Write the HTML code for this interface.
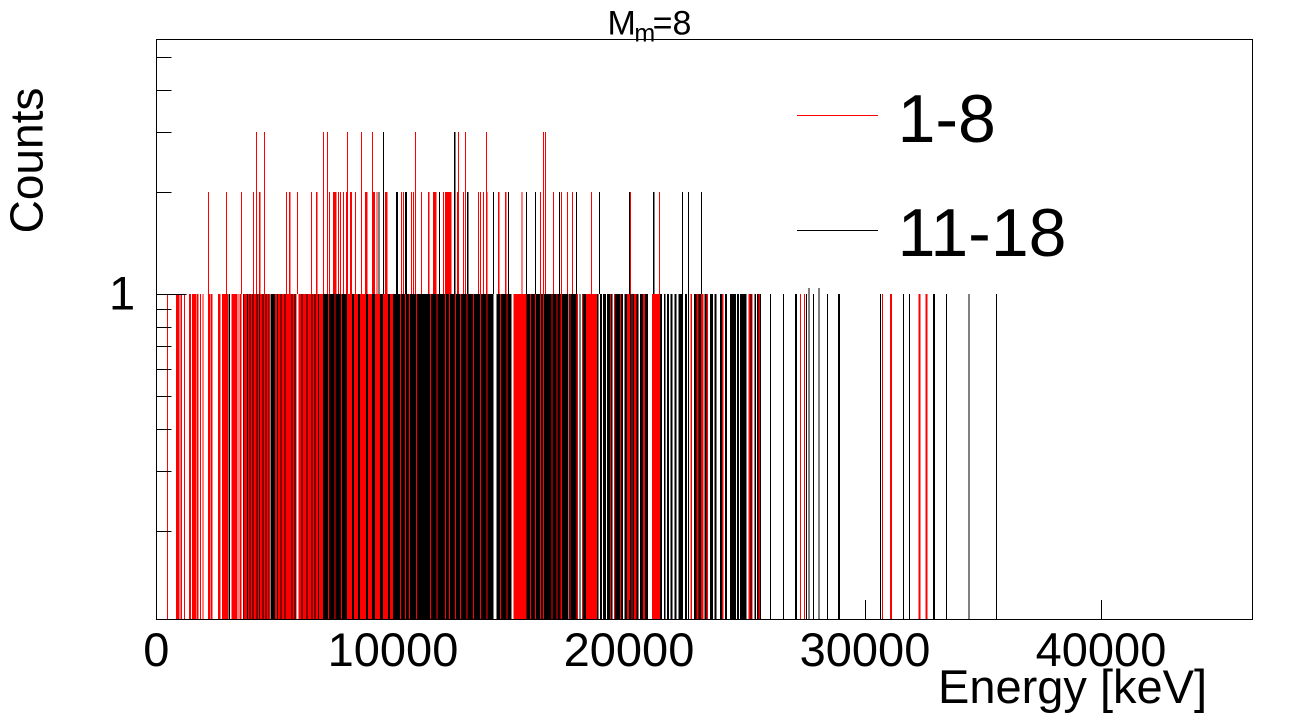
<!DOCTYPE html>
<html>
<head>
<meta charset="utf-8">
<style>
html,body{margin:0;padding:0;background:#fff;width:1301px;height:720px;overflow:hidden;}
svg{display:block;}
text{font-family:"Liberation Sans",Arial,sans-serif;fill:#000;}
</style>
</head>
<body>
<svg width="1301" height="720" viewBox="0 0 1301 720" xmlns="http://www.w3.org/2000/svg">
<rect x="0" y="0" width="1301" height="720" fill="#fff"/>
<g shape-rendering="crispEdges">
<!-- black base band (count = 1) -->
<path fill="#000" d="M243 294H557V619H243Z M228.7 294h1.3v325h-1.3z
M557 294h3.5v325h-3.5z M562 294h6v325h-6z M568.5 294h1.5v325h-1.5z
M570.5 294h6v325h-6z M579.5 294h1v325h-1z M583 294h3v325h-3z M597 294h1.5v325h-1.5z M600 294h2v325h-2z
M603 294h3v325h-3z M607 294h3v325h-3z M611 294h1.5v325h-1.5z M615 294h5v325h-5z M621 294h2v325h-2z
M624.5 294h2.5v325h-2.5z M630 294h1.5v325h-1.5z M632.5 294h1.5v325h-1.5z M636.5 294h2v325h-2z M640 294h3v325h-3z
M645 294h3v325h-3z M660 294h2v325h-2z M664 294h1.5v325h-1.5z M667 294h2v325h-2z M670.5 294h2v325h-2z
M674.5 294h2v325h-2z M678.5 294h4.5v325h-4.5z M685 294h2v325h-2z M688 294h1v325h-1z M694 294h2.5v325h-2.5z
M698.5 294h2.5v325h-2.5z M704.5 294h2v325h-2z M710 294h3v325h-3z M714.5 294h2v325h-2z M720 294h2v325h-2z
M725 294h2v325h-2z M730 294h6v325h-6z M737 294h2v325h-2z M740 294h6.5v325h-6.5z M750.5 294h1v325h-1z
M754.5 294h1.5v325h-1.5z M757 294h1.5v325h-1.5z M760 294h1v325h-1z M770 294h1v325h-1z M783 294h1v325h-1z
M795 294h2v325h-2z M806 294h1v325h-1z M813 294h1v325h-1z M827 294h1v325h-1z M838 294h2v325h-2z
M880 294h1v325h-1z M903 294h1v325h-1z M909 294h1v325h-1z M933 294h2v325h-2z M946 294h1v325h-1z
M968.5 294h1v325h-1z M996 294h1v325h-1z
M808.5 288h1v331h-1z M818.5 288h1v331h-1z"/>
<!-- white gaps -->
<path fill="#fff" d="M296.7 294h1.6v325h-1.6z M493.3 294h3.4v325h-3.4z M511.7 294h1.6v325h-1.6z M270.3 294h0.7v325h-0.7z"/>
<!-- red band (count = 1) -->
<path fill="#f00" d="M167 294h1v325h-1z M176 294h3.5v325h-3.5z M180.5 294h1.5v325h-1.5z M184 294h1v325h-1z
M189 294h2v325h-2z M192 294h4v325h-4z M196.7 294h1.6v325h-1.6z M200 294h1v325h-1z M202.7 294h1v325h-1z M208 294h2v325h-2z
M210.7 294h2v325h-2z M218 294h2.5v325h-2.5z M222 294h6v325h-6z M231.3 294h6v325h-6z M238.3 294h1v325h-1z
M240 294h1.3v325h-1.3z
M243.3 294h3.7v325h-3.7z M248 294h1.7v325h-1.7z M250.7 294h1.6v325h-1.6z M253.3 294h3v325h-3z M257.3 294h1.7v325h-1.7z
M260 294h2.3v325h-2.3z M263.3 294h2.4v325h-2.4z M266.7 294h1.6v325h-1.6z M269 294h1v325h-1z
M275 294h2v325h-2z M278 294h2.3v325h-2.3z M281.3 294h3.4v325h-3.4z M285.7 294h5.6v325h-5.6z M292.3 294h2.4v325h-2.4z M295.7 294h1v325h-1z
M298.3 294h3v325h-3z M302.3 294h4v325h-4z M307.3 294h4v325h-4z M312.3 294h2.4v325h-2.4z M315.7 294h2.3v325h-2.3z M319 294h4v325h-4z
M328 294h1v325h-1z M334.5 294h1v325h-1z M341 294h1v325h-1z
M347 294h5v325h-5z M354 294h4v325h-4z M360 294h6v325h-6z M368 294h4v325h-4z M375 294h5v325h-5z M383 294h5v325h-5z M390 294h3v325h-3z
M400 294h1v325h-1z M405 294h1v325h-1z M409 294h1v325h-1z M416 294h1v325h-1z
M430 294h1v325h-1z M436.5 294h1v325h-1z M445 294h1v325h-1z M449 294h1v325h-1z M455 294h1v325h-1z M460 294h1v325h-1z
M466.5 294h1v325h-1z M473 294h1v325h-1z M480 294h1v325h-1z M486.5 294h1v325h-1z
M500 294h1v325h-1z M506.5 294h1v325h-1z M513.3 294h13.4v325h-13.4z
M530 294h1v325h-1z M535 294h1v325h-1z M540 294h1v325h-1z M543 294h1v325h-1z M551.5 294h1v325h-1z M556.5 294h1v325h-1z
M560.5 294h1.5v325h-1.5z
M569.5 294h1v325h-1z M576.5 294h1.5v325h-1.5z M582 294h1v325h-1z M586 294h11v325h-11z M610 294h1v325h-1z
M614 294h1v325h-1z M620 294h1v325h-1z M627 294h3v325h-3z M631.5 294h1v325h-1z M634 294h2.5v325h-2.5z
M643 294h2v325h-2z M652 294h8v325h-8z M690.5 294h1.5v325h-1.5z M696.5 294h2v325h-2z M701 294h2.5v325h-2.5z
M706.5 294h1.5v325h-1.5z M722 294h1.5v325h-1.5z M748.5 294h2v325h-2z M751.5 294h1v325h-1z M758.5 294h1.5v325h-1.5z
M800 294h1v325h-1z M804 294h1v325h-1z M882 294h1v325h-1z M890 294h2v325h-2z M918.5 294h2v325h-2z M925.5 294h2v325h-2z"/>
<!-- black count 2 / 3 spikes (above band) -->
<path fill="#000" d="M378.5 192h1V294h-1z M396 192h2V294h-2z M405 192h2V294h-2z M439 192h1V294h-1z
M467 192h1.5V294h-1.5z M493 192h1V294h-1z M508 192h1V294h-1z M526 192h1V294h-1z M535 192h1V294h-1z
M559 192h1V294h-1z M576 192h1V294h-1z M599 192h1V294h-1z M629 192h1V294h-1z M653 192h1.5V294h-1.5z
M682 192h1V294h-1z M688 192h1V294h-1z M701 192h1V294h-1z
M383 132h1V294h-1z M454 132h1.5V294h-1.5z"/>
<!-- red count 2 spikes (above band) -->
<path fill="#f00" d="M208 192h1V294h-1z M226 192h1V294h-1z M241 192h1V294h-1z M253 192h1V294h-1z
M259 192h1.5V294h-1.5z M286 192h1V294h-1z M289 192h1.5V294h-1.5z M297 192h1V294h-1z M311 192h1V294h-1z
M316 192h1.5V294h-1.5z M329 192h1V294h-1z M333 192h3.5V294h-3.5z M338 192h1V294h-1z M340 192h1V294h-1z
M343 192h1V294h-1z M346 192h2V294h-2z M350 192h2V294h-2z M355 192h1V294h-1z M365 192h2.5V294h-2.5z
M372 192h3V294h-3z M376.5 192h1V294h-1z M385 192h2.5V294h-2.5z M401 192h1V294h-1z M403 192h1V294h-1z
M411 192h1V294h-1z M413 192h1V294h-1z M421 192h1V294h-1z M428 192h1.5V294h-1.5z M433 192h3.5V294h-3.5z
M443 192h1V294h-1z M445 192h6.5V294h-6.5z M457 192h1V294h-1z M463 192h1V294h-1z M478 192h1V294h-1z
M480 192h1V294h-1z M483 192h1V294h-1z M486 192h1.5V294h-1.5z M498 192h1.5V294h-1.5z M505 192h1.5V294h-1.5z
M521.5 192h1V294h-1z M540 192h1V294h-1z M553 192h1V294h-1z M561 192h1V294h-1z M567 192h1V294h-1z
M572 192h1V294h-1z M591 192h1V294h-1z M630 192h1V294h-1z M659 192h1V294h-1z"/>
<!-- red count 3 spikes -->
<path fill="#f00" d="M256 132h1V294h-1z M264 132h1V294h-1z M323 132h1V294h-1z M327 132h1V294h-1z
M347 132h1V294h-1z M361 132h1V294h-1z M372 132h1V294h-1z M415 132h1V294h-1z M458 132h1V294h-1z
M465 132h1V294h-1z M486 132h1V294h-1z M543 132h1V294h-1z M545 132h1V294h-1z"/>

<!-- frame -->
<path fill="none" stroke="#000" stroke-width="1" d="M156.5 39.5H1252.5V619.5H156.5Z"/>
<!-- y ticks -->
<path fill="none" stroke="#000" stroke-width="1" d="M156.5 294.5H186.5
M156.5 57.5H171.5 M156.5 90.5H171.5 M156.5 132.5H171.5 M156.5 192.5H171.5
M156.5 309.5H171.5 M156.5 327.5H171.5 M156.5 346.5H171.5 M156.5 369.5H171.5
M156.5 396.5H171.5 M156.5 429.5H171.5 M156.5 471.5H171.5 M156.5 531.5H171.5"/>
<!-- x ticks -->
<path fill="none" stroke="#000" stroke-width="1" d="M393.5 600V619 M629.5 600V619 M865.5 600V619 M1101.5 600V619"/>
<!-- legend lines -->
<path fill="none" stroke="#f00" stroke-width="1" d="M797 115.5H878"/>
<path fill="none" stroke="#000" stroke-width="1" d="M797 230.5H878"/>
</g>

<!-- title -->
<text x="607.5" y="34.3" font-size="34">M</text>
<text x="634.4" y="41.7" font-size="25">m</text>
<text x="652.6" y="34.3" font-size="34">=8</text>

<!-- legend text -->
<text x="897.6" y="142" font-size="68">1-8</text>
<text x="897.6" y="256" font-size="68">11-18</text>

<!-- axis labels -->
<text x="156.3" y="666" font-size="47" text-anchor="middle">0</text>
<text x="393" y="666" font-size="47" text-anchor="middle">10000</text>
<text x="629" y="666" font-size="47" text-anchor="middle">20000</text>
<text x="865" y="666" font-size="47" text-anchor="middle">30000</text>
<text x="1101" y="666" font-size="47" text-anchor="middle">40000</text>
<text x="109" y="309.5" font-size="47">1</text>

<text x="938" y="703" font-size="47">Energy [keV]</text>
<text transform="translate(42.5,160.5) rotate(-90)" text-anchor="middle" font-size="46">Counts</text>
</svg>
</body>
</html>
